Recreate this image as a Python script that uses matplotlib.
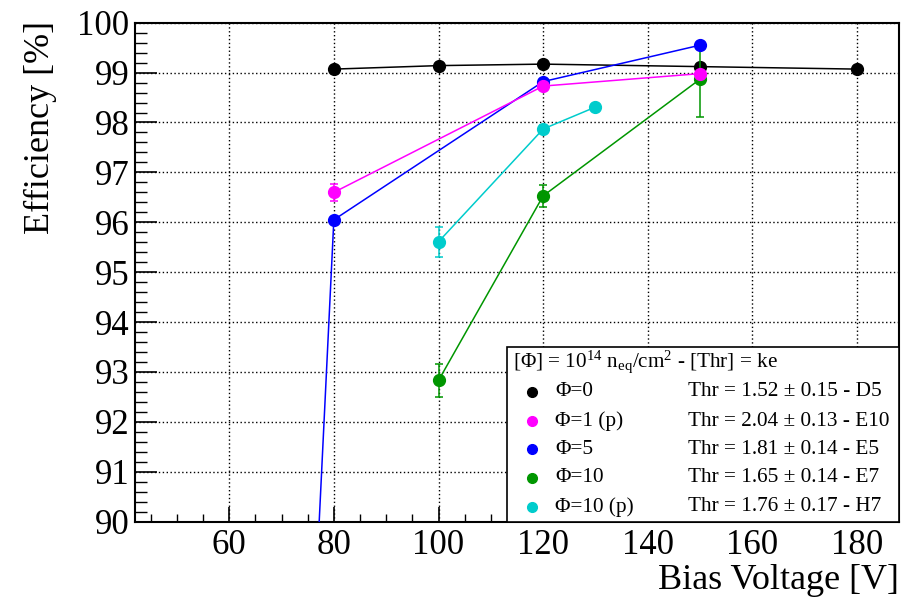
import numpy as np
import matplotlib
matplotlib.use("Agg")
import matplotlib.pyplot as plt
from matplotlib.patches import Rectangle
from matplotlib.ticker import MultipleLocator

plt.rcParams['font.family'] = ['Liberation Serif', 'DejaVu Serif']
plt.rcParams['mathtext.fontset'] = 'custom'
plt.rcParams['mathtext.rm'] = 'Liberation Serif'
plt.rcParams['mathtext.it'] = 'Liberation Serif:italic'

# efficiency vs bias voltage for each fluence / sample
v_d5 = [80, 100, 120, 150, 180]
eff_d5 = [99.07, 99.14, 99.17, 99.12, 99.07]
err_d5 = [0.03, 0.03, 0.03, 0.03, 0.03]

v_e10 = [80, 120, 150]
eff_e10 = [96.60, 98.73, 98.98]
err_e10 = [0.17, 0.06, 0.05]

v_e5 = [70, 80, 120, 150]
eff_e5 = [74.45, 96.05, 98.82, 99.55]
err_e5 = [0.5, 0.05, 0.05, 0.04]

v_e7 = [100, 120, 150]
eff_e7 = [92.83, 96.53, 98.87]
err_e7 = [0.33, 0.22, 0.75]

v_h7 = [100, 120, 130]
eff_h7 = [95.61, 97.87, 98.31]
err_h7 = [0.30, 0.08, 0.05]

labels = ["Φ=0", "Φ=1 (p)", "Φ=5", "Φ=10", "Φ=10 (p)"]
thr_text = ["Thr = 1.52 ± 0.15 - D5", "Thr = 2.04 ± 0.13 - E10",
            "Thr = 1.81 ± 0.14 - E5", "Thr = 1.65 ± 0.14 - E7",
            "Thr = 1.76 ± 0.17 - H7"]
colors = ["black", "#ff00ff", "#0000ff", "#009600", "#00cccc"]

fig = plt.figure(figsize=(9.16, 6.01), dpi=100)
ax = fig.add_axes([135/916, 1 - 521.7/601, 764/916, 499/601])

series = [(v_d5, eff_d5, err_d5, 0), (v_h7, eff_h7, err_h7, 4),
          (v_e7, eff_e7, err_e7, 3), (v_e5, eff_e5, err_e5, 2),
          (v_e10, eff_e10, err_e10, 1)]
for z, (v, e, err, i) in enumerate(series):
    ax.errorbar(v, e, yerr=err, color=colors[i], marker='o', markersize=8.5,
                lw=1.1, elinewidth=1.1, capsize=3, capthick=1.1, zorder=3 + z,
                clip_on=True)

ax.set_xlim(42, 188)
ax.set_ylim(90, 100)
ax.xaxis.set_major_locator(MultipleLocator(20))
ax.xaxis.set_minor_locator(MultipleLocator(5))
ax.yaxis.set_major_locator(MultipleLocator(1))
ax.yaxis.set_minor_locator(MultipleLocator(0.2))
ax.grid(True, which='major', linestyle=(0, (1, 1.8)), color='black', lw=1.0)
ax.tick_params(axis='y', which='major', direction='in', length=16, width=1.2,
               labelsize=25, pad=4, right=False)
ax.tick_params(axis='y', which='minor', direction='in', length=8.5, width=1.0,
               right=False)
ax.tick_params(axis='x', which='major', direction='in', length=11, width=1.2,
               labelsize=25, pad=5, top=False)
ax.tick_params(axis='x', which='minor', direction='in', length=6, width=1.0,
               top=False)
for s in ax.spines.values():
    s.set_linewidth(1.5)

ax.set_ylabel("Efficiency [%]", fontsize=26, va='center')
ax.yaxis.set_label_coords(-0.124, 0.79)
ax.set_xlabel("Bias Voltage [V]", fontsize=26, ha='right', va='center')
ax.xaxis.set_label_coords(1.0, -0.117)

# legend box in the lower right corner
lx0, ly1 = 0.4865, 0.3495
ax.add_patch(Rectangle((lx0, 0), 1 - lx0, ly1, transform=ax.transAxes,
                       facecolor='white', edgecolor='black', lw=1.2,
                       zorder=20, clip_on=False))
ax.text(0.4945, 0.3206, "[Φ] = 10$^{14}$ n$_{\\mathrm{eq}}$/cm$^{2}$ - [Thr] = ke",
        transform=ax.transAxes, fontsize=15.2, va='center', ha='left', zorder=21)
row_y = [0.2605, 0.2018, 0.1451, 0.0882, 0.0301]
for i in range(5):
    ax.plot([0.520], [row_y[i]], 'o', color=colors[i], markersize=7,
            transform=ax.transAxes, zorder=21, clip_on=False)
    ax.text(0.5497, row_y[i], labels[i], transform=ax.transAxes, fontsize=15.3,
            va='center', ha='left', zorder=21)
    ax.text(0.7243, row_y[i], thr_text[i], transform=ax.transAxes, fontsize=15.3,
            va='center', ha='left', zorder=21)

fig.savefig("out.png", dpi=100)
